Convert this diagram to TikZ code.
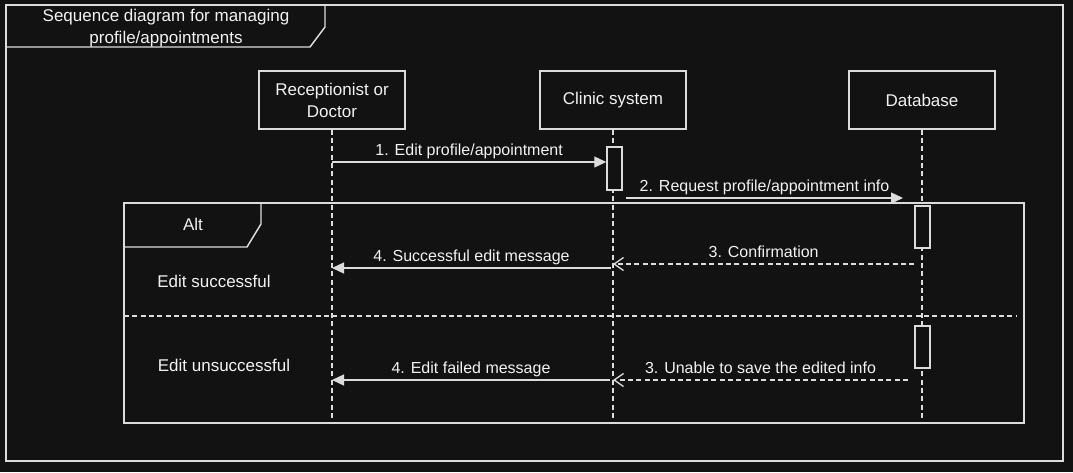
\documentclass[tikz,border=0pt]{standalone}
\usepackage{fontspec}
\setmainfont{Liberation Sans}
\usetikzlibrary{positioning, arrows.meta, calc}

\definecolor{bgdark}{HTML}{121212}
\definecolor{linegray}{HTML}{DCDCDC}
\definecolor{txtwhite}{HTML}{F2F2F2}

\begin{document}
\begin{tikzpicture}[x=0.75pt, y=-0.75pt, on grid,
	every node/.style={text=txtwhite, font=\fontsize{12.75}{16.5}\selectfont},
	head/.style={draw=linegray, line width=1.1pt, minimum width=109.5pt, minimum height=43.5pt, align=center, inner sep=1pt},
	act/.style={draw=linegray, line width=1.1pt, fill=bgdark, minimum width=11.25pt, minimum height=31.5pt, inner sep=0pt},
	frame/.style={draw=linegray, line width=1.1pt},
	lifeline/.style={draw=linegray, line width=1pt, dash pattern=on 3.75pt off 2.5pt},
	msg/.style={draw=linegray, line width=1pt, -{Triangle[length=9pt, width=8.25pt]}},
	reply/.style={draw=linegray, line width=1pt, dash pattern=on 3.75pt off 2.5pt, -{Straight Barb[length=7pt, width=9.75pt]}},
	lbl/.style={above=1.75pt, inner sep=0pt, text height=9pt, text depth=2.5pt, font=\fontsize{12}{14}\selectfont}]
	
	% background and outer frame
	\fill[bgdark] (0,0) rectangle (1073,472);
	\useasboundingbox (0,0) rectangle (1073,472);
	\draw[frame] (6,5) rectangle (1063,461);
	\draw[frame] (6,47) -- (310,47) -- (325,27) -- (325,5);
	\node[align=center] (title) at (166,28) {Sequence diagram for managing\\profile/appointments};
	
	% lifeline heads
	\node[head] (rcp) at (332,100) {Receptionist or\\Doctor};
	\node[head, right=210.75pt of rcp] (cls) {Clinic system};
	\node[head, right=231.75pt of cls] (db) {Database};
	
	\coordinate (rcpend) at (rcp |- 0,421);
	\coordinate (clsend) at (cls |- 0,421);
	\coordinate (dbend) at (db |- 0,421);
	\draw[lifeline] (rcp.south) -- (rcpend);
	\draw[lifeline] (cls.south) -- (clsend);
	\draw[lifeline] (db.south) -- (dbend);
	
	% alt fragment
	\draw[frame] (124,203) rectangle (1024,423);
	\draw[frame] (124,247) -- (247,247) -- (261,224) -- (261,203);
	\node (alt) at (193,224) {Alt};
	\node (okcase) at (214,281) {Edit successful};
	\node (failcase) at (224,365) {Edit unsuccessful};
	\draw[lifeline] (124,316) -- (1017,316);
	
	% activations
	\node[act, minimum height=32.25pt] (cact) at (614.5,168.5) {};
	\node[act] (dact1) at (922.5,227) {};
	\node[act] (dact2) at (922.5,347) {};
	
	% message end points
	\coordinate (m1a) at (rcp |- 0,162);
	\coordinate (m1b) at (cact.west |- 0,162);
	\coordinate (m2a) at (626,198);
	\coordinate (m2b) at (903,198);
	\coordinate (m3a) at (dact1.west |- 0,264);
	\coordinate (m3b) at (cls |- 0,264);
	\coordinate (m4a) at (611,268);
	\coordinate (m4b) at (rcp |- 0,268);
	\coordinate (m5a) at (908,380);
	\coordinate (m5b) at (cls |- 0,380);
	\coordinate (m6a) at (610,380);
	\coordinate (m6b) at (rcp |- 0,380);
	
	\path
	(m1a) edge[msg] node[lbl]{1. Edit profile/appointment} (m1b)
	(m2a) edge[msg] node[lbl]{2. Request profile/appointment info} (m2b)
	(m3a) edge[reply] node[lbl]{3. Confirmation} (m3b)
	(m4a) edge[msg] node[lbl]{4. Successful edit message} (m4b)
	(m5a) edge[reply] node[lbl]{3. Unable to save the edited info} (m5b)
	(m6a) edge[msg] node[lbl]{4. Edit failed message} (m6b);
	
\end{tikzpicture}
\end{document}
